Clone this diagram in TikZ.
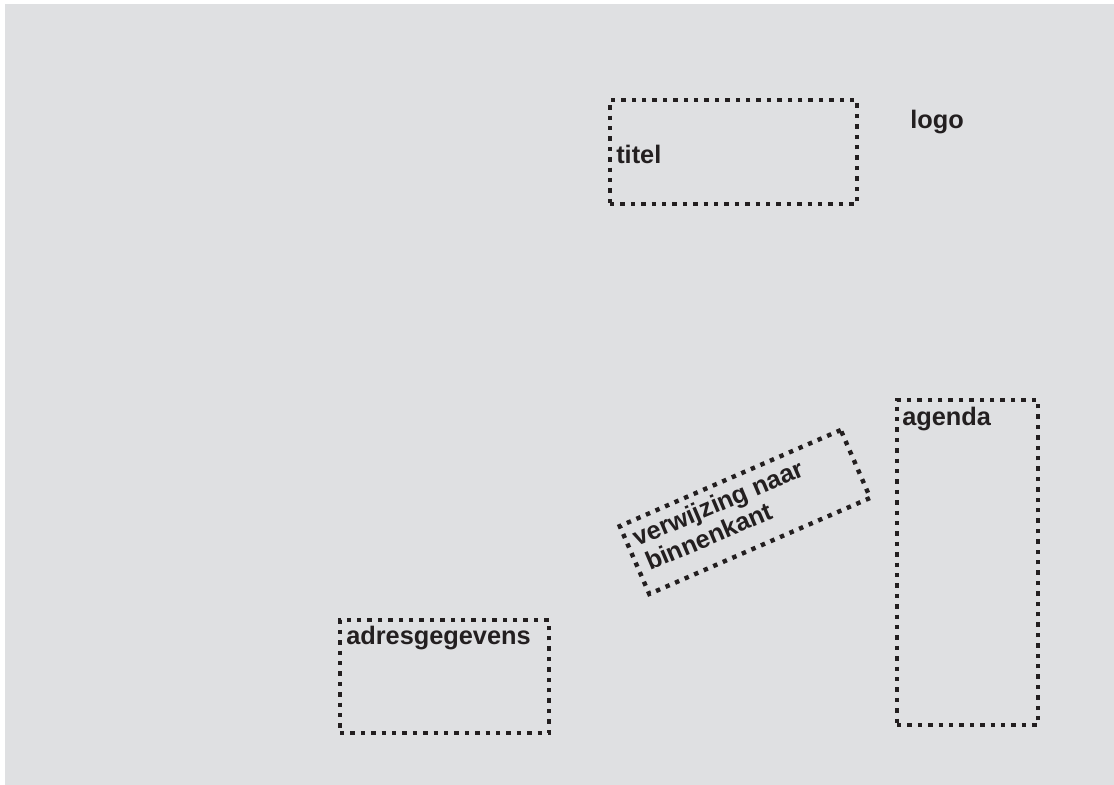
\documentclass[tikz,border=0pt]{standalone}
\usepackage{fontspec}
\setmainfont{Liberation Sans}
\usetikzlibrary{fit}
\definecolor{bg}{RGB}{223,224,226}
\definecolor{ink}{RGB}{35,31,32}
\begin{document}
\begin{tikzpicture}[x=0.75pt,y=-0.75pt,
  dotbox/.style={draw=ink, line width=3.3pt, dash pattern=on 3.3pt off 4.5pt, inner sep=0pt, outer sep=0pt},
  lbl/.style={text=ink, font=\bfseries\fontsize{19}{23}\selectfont, inner sep=0pt, anchor=base west}]
\useasboundingbox (0,0) rectangle (1114,785);
\fill[bg] (5,4) rectangle (1114,785);
\node[dotbox, fit={(610,100) (857,204)}] (titelbox) {};
\node[dotbox, fit={(340,620) (549,733)}] (adresbox) {};
\node[dotbox, fit={(897,400) (1038,725)}] (agendabox) {};
\node[dotbox, minimum width=180.75pt, minimum height=55.5pt, rotate=23.5] (verwbox) at (745,512) {};
\node[lbl] (titel) at (616,163) {titel};
\node[lbl] (logo) at (910,128) {logo};
\node[lbl] (adres) at (346,644) {adresgegevens};
\node[lbl] (agenda) at (902,425) {agenda};
\node[lbl, rotate=23] (verw1) at (637,547) {verwijzing naar};
\node[lbl, rotate=23] (verw2) at (650,571) {binnenkant};
\end{tikzpicture}
\end{document}
